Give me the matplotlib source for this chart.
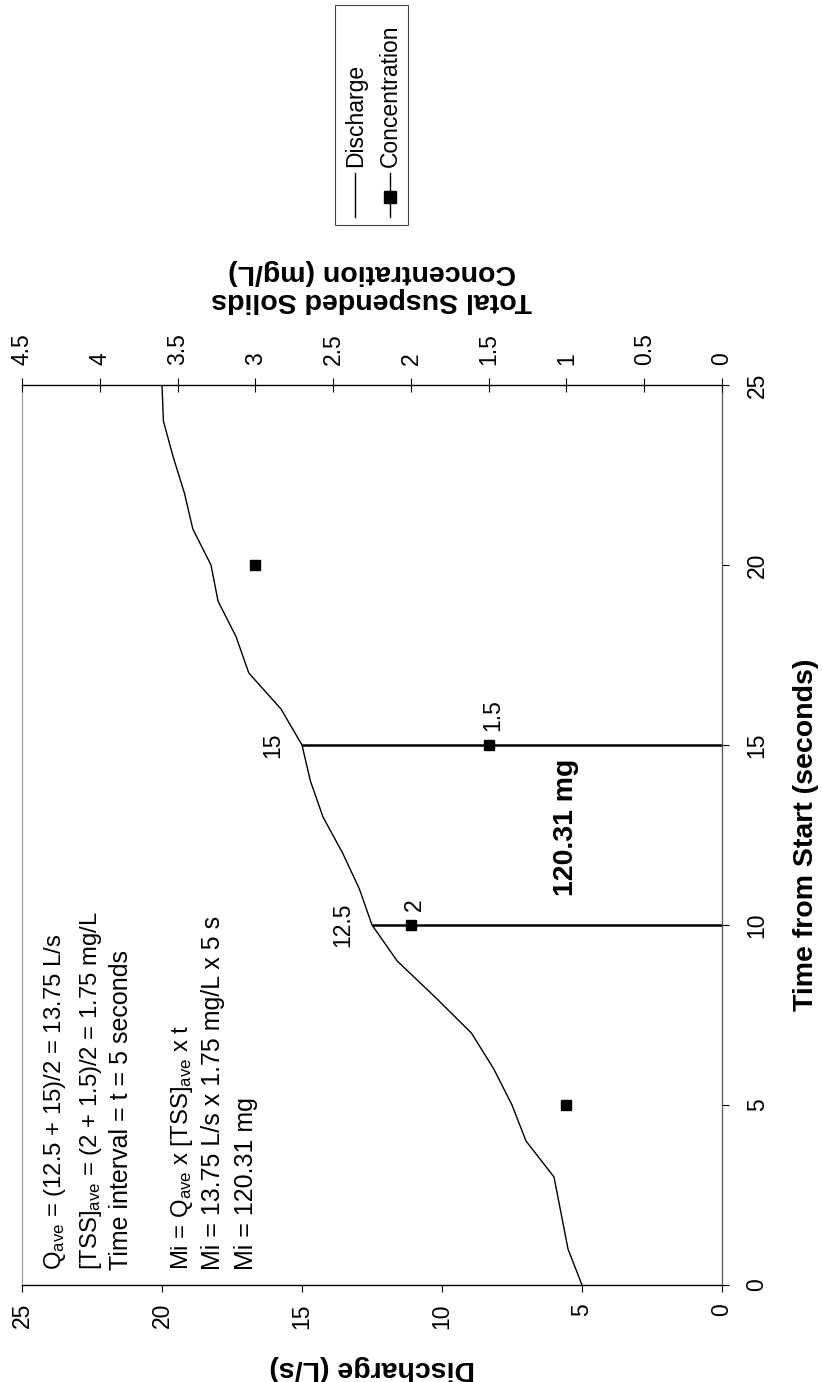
import numpy as np
import matplotlib
matplotlib.use('Agg')
import matplotlib.pyplot as plt
from matplotlib.lines import Line2D
from matplotlib.patches import Rectangle

plt.rcParams['font.family'] = ['Liberation Sans', 'DejaVu Sans']
plt.rcParams['mathtext.fontset'] = 'custom'
plt.rcParams['mathtext.rm'] = 'Liberation Sans'
plt.rcParams['mathtext.it'] = 'Liberation Sans:italic'

# Discharge hydrograph, one reading per second
time_s = list(range(0, 26))
discharge = [5, 5.5, 5.75, 6, 7, 7.5, 8.15, 8.95, 10.25, 11.6, 12.5, 12.95, 13.55,
             14.25, 14.7, 15, 15.75, 16.9, 17.35, 18, 18.25, 18.9, 19.2, 19.6, 19.95, 20]

# Grab samples of total suspended solids
sample_t = [5, 10, 15, 20]
tss = [1, 2, 1.5, 3]

# Interval used for the mass calculation
interval = [10, 15]
mass_label = '120.31 mg'

notes = [
    r'Q$_{\mathrm{ave}}$ = (12.5 + 15)/2 = 13.75 L/s',
    r'[TSS]$_{\mathrm{ave}}$ = (2 + 1.5)/2 = 1.75 mg/L',
    'Time interval = t = 5 seconds',
    r'Mi = Q$_{\mathrm{ave}}$ x [TSS]$_{\mathrm{ave}}$ x t',
    'Mi = 13.75 L/s x 1.75 mg/L x 5 s',
    'Mi = 120.31 mg',
]
note_x = [61, 97, 128, 188, 220, 253]

W, H = 822, 1382


def fx(x):
    return x / W


def fy(y):
    return 1 - y / H


fig = plt.figure(figsize=(W / 100, H / 100), dpi=100)
ax = fig.add_axes([fx(22), fy(1285), 700 / W, 900 / H])

# chart is laid on its side: time runs up, discharge runs right-to-left
ax.plot(discharge, time_s, color='black', lw=1.0)
for t in interval:
    q = discharge[time_s.index(t)]
    ax.plot([0, q], [t, t], color='black', lw=1.8, solid_capstyle='butt')
    ax.text(q + 0.8, t, '%g' % q, rotation=90, rotation_mode='anchor',
            ha='center', va='baseline', fontsize=16.5)

ax.set_xlim(25, 0)
ax.set_ylim(0, 25)
ax.set_xticks(range(0, 26, 5))
ax.set_yticks(range(0, 26, 5))
ax.yaxis.tick_right()
ax.tick_params(axis='x', rotation=90, labelsize=16.5, direction='out', length=5, pad=8)
ax.tick_params(axis='y', rotation=90, labelsize=16.5, direction='out', length=5,
               pad=12, left=False, right=True)
for lab in ax.get_yticklabels():
    lab.set_va('center')

ax.spines['top'].set_visible(False)
ax.spines['left'].set_color('#999999')
ax.spines['left'].set_linestyle((0, (1, 1)))
ax.spines['left'].set_linewidth(0.8)
ax.spines['right'].set_color('#555555')
ax.spines['right'].set_linewidth(0.9)
ax.spines['bottom'].set_linewidth(1.0)

ax.text(5.32, 12.7, mass_label, rotation=90, rotation_mode='anchor',
        ha='center', va='baseline', fontsize=20.5, fontweight='bold')

for line, x in zip(notes, note_x):
    size = 17.2 if '$' in line else 18
    ax.text((x - 22) / 700, (1285 - 1270) / 900, line, transform=ax.transAxes,
            rotation=90, rotation_mode='anchor', ha='left', va='baseline', fontsize=size)

# concentration on the secondary axis
ax2 = ax.twiny()
ax2.plot(tss, sample_t, ls='none', marker='s', color='black', ms=7)
ax2.set_xlim(4.5, 0)
ax2.set_ylim(0, 25)
tss_ticks = np.arange(0, 4.51, 0.5)
ax2.set_xticks(tss_ticks)
ax2.set_xticklabels(['%g' % v for v in tss_ticks])
ax2.tick_params(axis='x', rotation=90, labelsize=16.5, direction='inout', length=9.4, pad=10)
for side in ['left', 'right', 'bottom']:
    ax2.spines[side].set_visible(False)
ax2.spines['top'].set_linewidth(1.0)
for t, c in zip(sample_t, tss):
    if t in interval:
        ax2.text(c - 0.065, t + 0.38, '%g' % c, rotation=90, rotation_mode='anchor',
                 ha='left', va='baseline', fontsize=16.5)

# axis titles
fig.text(fx(372), fy(1368), 'Discharge (L/s)', rotation=180, ha='center', va='center',
         fontsize=20.5, fontweight='bold')
fig.text(fx(806), fy(835), 'Time from Start (seconds)', rotation=90, ha='center', va='center',
         fontsize=20.5, fontweight='bold')
fig.text(fx(372), fy(286), 'Total Suspended Solids\nConcentration (mg/L)', rotation=180,
         ha='center', va='center', fontsize=20.5, fontweight='bold', linespacing=1.1)

# legend box drawn sideways
fig.patches.append(Rectangle((fx(335), fy(225)), 73 / W, 220 / H, transform=fig.transFigure,
                             fill=False, edgecolor='#444444', lw=0.8))
fig.lines.append(Line2D([fx(355), fx(355)], [fy(217), fy(173)], transform=fig.transFigure,
                        color='black', lw=1.0))
fig.lines.append(Line2D([fx(390), fx(390)], [fy(217), fy(173)], transform=fig.transFigure,
                        color='black', lw=1.0))
fig.lines.append(Line2D([fx(390)], [fy(197)], transform=fig.transFigure,
                        marker='s', ms=8, color='black', ls='none'))
fig.text(fx(362), fy(167), 'Discharge', rotation=90, rotation_mode='anchor',
         ha='left', va='baseline', fontsize=16.5)
fig.text(fx(397), fy(167), 'Concentration', rotation=90, rotation_mode='anchor',
         ha='left', va='baseline', fontsize=16.5)

fig.savefig('out.png', dpi=100)
